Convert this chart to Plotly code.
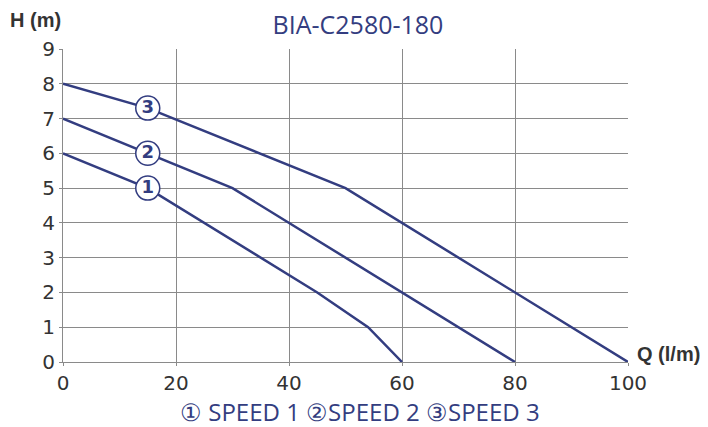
import plotly.graph_objects as go

NAVY = "#333d80"

# pump curves: flow Q (l/min) vs head H (m)
q_speed1 = [0, 15, 45, 54, 60]
h_speed1 = [6, 5, 2, 1, 0]
q_speed2 = [0, 15, 30, 80]
h_speed2 = [7, 6, 5, 0]
q_speed3 = [0, 15, 50, 100]
h_speed3 = [8, 7.3, 5, 0]

speed_labels = ["1", "2", "3"]
badge_q = [15, 15, 15]
badge_h = [5.0, 6.0, 7.3]

title = "BIA-C2580-180"
legend_text = "① SPEED 1 ②SPEED 2 ③SPEED 3"

fig = go.Figure()
for q, h in [(q_speed1, h_speed1), (q_speed2, h_speed2), (q_speed3, h_speed3)]:
    fig.add_trace(
        go.Scatter(x=q, y=h, mode="lines", line=dict(color=NAVY, width=2.5),
                   hoverinfo="skip")
    )

# numbered circles sitting on the curves
fig.add_trace(
    go.Scatter(
        x=badge_q,
        y=badge_h,
        mode="markers+text",
        text=["<b>%s</b>" % s for s in speed_labels],
        textposition="middle center",
        textfont=dict(family="DejaVu Sans", size=18, color=NAVY),
        marker=dict(size=24, color="white", line=dict(color=NAVY, width=1.5)),
        hoverinfo="skip",
    )
)

axis_common = dict(
    showgrid=True,
    gridcolor="#8a8a8a",
    gridwidth=1,
    zeroline=False,
    showline=True,
    linecolor="#8a8a8a",
    linewidth=1,
    ticks="outside",
    ticklen=3,
    tickcolor="#8a8a8a",
    tickfont=dict(family="DejaVu Sans", size=20, color="#333333"),
)

fig.update_xaxes(range=[0, 100], dtick=20, **axis_common)
fig.update_yaxes(range=[0, 9], dtick=1, **axis_common)

label_font = dict(family="Liberation Sans", size=20, color="#333333")

# page body adds 8px offset, so the figure is sized to fit the window
fig.update_layout(
    width=700,
    height=419,
    showlegend=False,
    plot_bgcolor="white",
    paper_bgcolor="white",
    margin=dict(l=55, r=80, t=41, b=65),
    title=dict(
        text=title,
        x=0.5,
        xanchor="center",
        y=0.959,
        yanchor="middle",
        font=dict(family="Open Sans", size=25, color=NAVY),
    ),
    annotations=[
        dict(text="<b>H (m)</b>", xref="paper", yref="paper", x=-0.097, y=1.093,
             xanchor="left", yanchor="middle", showarrow=False, font=label_font),
        dict(text="<b>Q (l/m)</b>", xref="paper", yref="paper", x=1.012, y=0.024,
             xanchor="left", yanchor="middle", showarrow=False, font=label_font),
        dict(text=legend_text, xref="paper", yref="paper", x=0.526, y=-0.158,
             xanchor="center", yanchor="middle", showarrow=False,
             font=dict(family="Open Sans", size=24, color=NAVY)),
    ],
)

fig.write_html("out.html")
